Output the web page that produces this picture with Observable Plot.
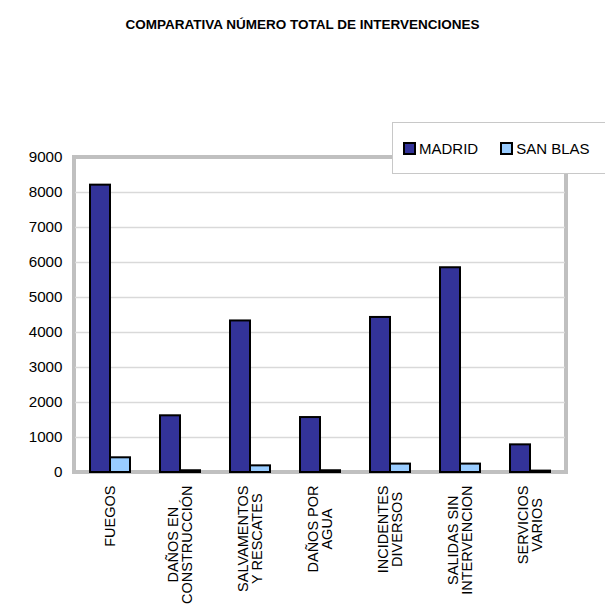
<!DOCTYPE html>
<html>
<head>
<meta charset="utf-8">
<script src="https://cdn.jsdelivr.net/npm/d3@7"></script>
<script src="https://cdn.jsdelivr.net/npm/@observablehq/plot@0.6"></script>
<style>
  body { margin: 0; background: #fff; font-family: "Liberation Sans", Arial, sans-serif; }
  #wrap { position: relative; width: 605px; height: 608px; overflow: hidden; }
  #title { height: 40px; box-sizing: border-box; padding-top: 17px; line-height: 16px; font-size: 13.5px; font-weight: bold; text-align: center; color: #000; }
  #legend { position: absolute; left: 392px; top: 122px; width: 214px; height: 52px; box-sizing: border-box; border: 1px solid #c8c8c8; background: #fff; display: flex; align-items: center; padding-left: 10px; font-size: 15px; color: #000; white-space: nowrap; }
  .item { display: flex; align-items: center; margin-right: 22px; white-space: nowrap; flex: none; }
  .sw { width: 9px; height: 9px; border: 2px solid #000; margin-right: 3px; }
  [aria-label^="y-axis"] text { font-size: 15.2px; }
</style>
</head>
<body>
<div id="wrap">
  <div id="title">COMPARATIVA NÚMERO TOTAL DE INTERVENCIONES</div>
  <div id="chart"></div>
  <div id="legend"></div>
</div>
<script>
const categories = ["FUEGOS", "DAÑOS EN\nCONSTRUCCIÓN", "SALVAMENTOS\nY RESCATES", "DAÑOS POR\nAGUA", "INCIDENTES\nDIVERSOS", "SALIDAS SIN\nINTERVENCION", "SERVICIOS\nVARIOS"];
const series = ["MADRID", "SAN BLAS"];
const madrid = [8210, 1620, 4330, 1570, 4430, 5850, 790];
const sanBlas = [420, 50, 190, 50, 240, 240, 40];
const yTicks = [0, 1000, 2000, 3000, 4000, 5000, 6000, 7000, 8000, 9000];
const colors = ["#333399", "#99CCFF"];

const data = categories.flatMap((c, i) => [
  {cat: c, series: series[0], value: madrid[i]},
  {cat: c, series: series[1], value: sanBlas[i]}
]);

const plot = Plot.plot({
  width: 605,
  height: 568,
  marginTop: 117,
  marginBottom: 136,
  marginLeft: 74,
  marginRight: 39,
  style: {fontFamily: '"Liberation Sans", Arial, sans-serif', fontSize: "14.5px", color: "#000", background: "transparent"},
  fx: {domain: categories, padding: 0, axis: "bottom", tickSize: 0, tickPadding: 13, tickRotate: -90, label: null},
  x: {domain: series, paddingInner: 0, paddingOuter: 0.67, axis: null},
  y: {domain: [0, 9000], ticks: yTicks, tickFormat: d => String(d), axis: "left", tickSize: 0, tickPadding: 13, label: null},
  color: {domain: series, range: colors},
  marks: [
    Plot.ruleY(yTicks.slice(1, -1), {stroke: "#d9d9d9", strokeWidth: 1.5}),
    Plot.barY(data, {fx: "cat", x: "series", y: "value", fill: "series", stroke: "#000", strokeWidth: 2, inset: 0})
  ]
});

document.getElementById("chart").appendChild(plot);
const svg = plot.tagName.toLowerCase() === "svg" ? plot : plot.querySelector("svg");

// outer plot frame drawn from the library's scales
const fxs = plot.scale("fx"), ys = plot.scale("y");
const xr = fxs.range, yr = ys.range;
const rect = document.createElementNS("http://www.w3.org/2000/svg", "rect");
rect.setAttribute("x", Math.min(...xr));
rect.setAttribute("y", Math.min(...yr));
rect.setAttribute("width", Math.abs(xr[1] - xr[0]));
rect.setAttribute("height", Math.abs(yr[1] - yr[0]));
rect.setAttribute("fill", "#fff");
rect.setAttribute("stroke", "#c0c0c0");
rect.setAttribute("stroke-width", 4);
svg.insertBefore(rect, svg.querySelector("g"));

// center multi-line rotated labels, block starting at the axis
d3.select(svg).selectAll('[aria-label^="fx-axis"] text').each(function() {
  const tspans = this.querySelectorAll("tspan");
  const lines = tspans.length ? Array.from(tspans) : [this];
  const w = d3.max(lines, t => t.getComputedTextLength());
  this.setAttribute("text-anchor", "middle");
  lines.forEach(t => t.setAttribute("x", -w / 2));
});

// legend
const legend = d3.select("#legend");
series.forEach((s, i) => {
  const it = legend.append("div").attr("class", "item");
  it.append("div").attr("class", "sw").style("background", colors[i]);
  it.append("span").text(s);
});
</script>
</body>
</html>
